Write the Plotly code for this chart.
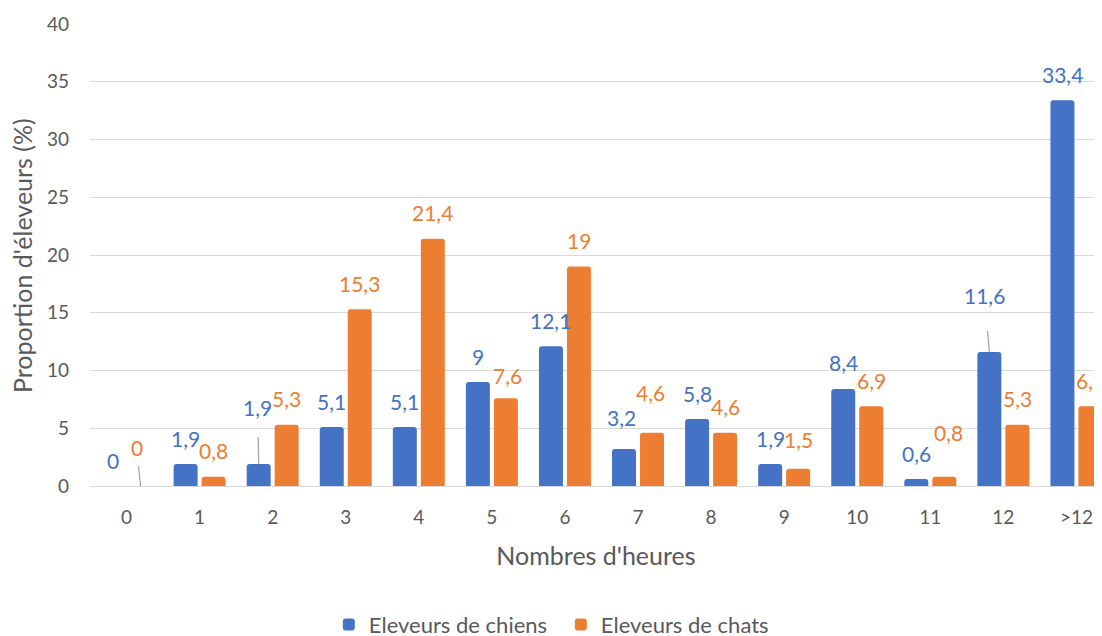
import plotly.graph_objects as go

# ---- data ----
categories = ["0", "1", "2", "3", "4", "5", "6", "7", "8", "9", "10", "11", "12", ">12"]
chiens = [0, 1.9, 1.9, 5.1, 5.1, 9, 12.1, 3.2, 5.8, 1.9, 8.4, 0.6, 11.6, 33.4]
chats = [0, 0.8, 5.3, 15.3, 21.4, 7.6, 19, 4.6, 4.6, 1.5, 6.9, 0.8, 5.3, 6.9]
y_ticks = [0, 5, 10, 15, 20, 25, 30, 35, 40]

BLUE = "#4472C4"
ORANGE = "#ED7D31"
GREY = "#595959"
GRID = "#D9D9D9"
FONT = "Lato"

# label placement tweaks (pixels): (dx, dy, leader startstandoff or None)
tweaks = {
    ("chiens", 2): (-1, -31, 16),
    ("chiens", 7): (-3, -6, None),
    ("chiens", 12): (-5, -31, 22),
    ("chats", 0): (-4, -13, 5),
    ("chats", 5): (2, 3, None),
    ("chats", 7): (-2, -14, None),
    ("chats", 9): (0, -3, None),
    ("chats", 11): (4, -18, None),
}

fig = go.Figure()
fig.add_trace(go.Bar(x=categories, y=chiens, name="Eleveurs de chiens",
                     marker=dict(color=BLUE, line=dict(width=0))))
fig.add_trace(go.Bar(x=categories, y=chats, name="Eleveurs de chats",
                     marker=dict(color=ORANGE, line=dict(width=0))))


def fmt(v):
    return f"{v:g}".replace(".", ",")


annotations = []
for key, values, color, off in (("chiens", chiens, BLUE, -14), ("chats", chats, ORANGE, 14)):
    for i, (c, v) in enumerate(zip(categories, values)):
        dx, dy, leader = tweaks.get((key, i), (0, 0, None))
        if leader is None:
            annotations.append(dict(
                x=c, y=v, xref="x", yref="y", text=fmt(v), showarrow=False,
                xshift=off + dx, yshift=26 - dy, yanchor="middle", xanchor="center",
                font=dict(family=FONT, size=21, color=color)))
        else:
            annotations.append(dict(
                x=c, y=v, xref="x", yref="y", text=fmt(v), showarrow=True,
                xshift=off, ax=dx, ay=-26 + dy, arrowhead=0, arrowwidth=1.3,
                arrowcolor="#A6A6A6", standoff=0, startstandoff=leader,
                font=dict(family=FONT, size=21, color=color)))

# y-axis title (placed as a rotated annotation to sit close to the edge)
annotations.append(dict(
    text="Proportion d'éleveurs (%)", textangle=-90, xref="paper", yref="paper",
    x=-0.0672, y=0.5, xanchor="center", yanchor="middle", showarrow=False,
    font=dict(family=FONT, size=25, color=GREY)))

# The page body has an 8px margin, so the figure is drawn 8px in and 8px down.
fig.update_layout(
    width=1094, height=628,
    margin=dict(l=82, r=0, t=16, b=150, autoexpand=False),
    paper_bgcolor="white", plot_bgcolor="white",
    font=dict(family=FONT, color=GREY, size=19),
    barmode="group", bargap=0.234, bargroupgap=0.143, barcornerradius=3,
    showlegend=True,
    legend=dict(orientation="h", x=0.236, xanchor="left", y=-0.30, yanchor="middle",
                font=dict(family=FONT, size=22, color=GREY), traceorder="normal",
                itemwidth=30, entrywidth=187, entrywidthmode="pixels"),
    annotations=annotations,
    xaxis=dict(
        type="category", range=[-0.5, 13.35], showgrid=False, zeroline=False,
        showline=False, ticks="", ticklabelstandoff=18,
        tickfont=dict(family=FONT, size=19, color=GREY),
        title=dict(text="Nombres d'heures", standoff=20,
                   font=dict(family=FONT, size=25, color=GREY))),
    yaxis=dict(
        range=[0, 40], tickvals=y_ticks, showgrid=True, gridcolor=GRID, gridwidth=1.3,
        zeroline=True, zerolinecolor=GRID, zerolinewidth=1.3, showline=False,
        ticks="", ticklabelstandoff=20,
        tickfont=dict(family=FONT, size=19, color=GREY)),
)

fig.write_html("out.html")
